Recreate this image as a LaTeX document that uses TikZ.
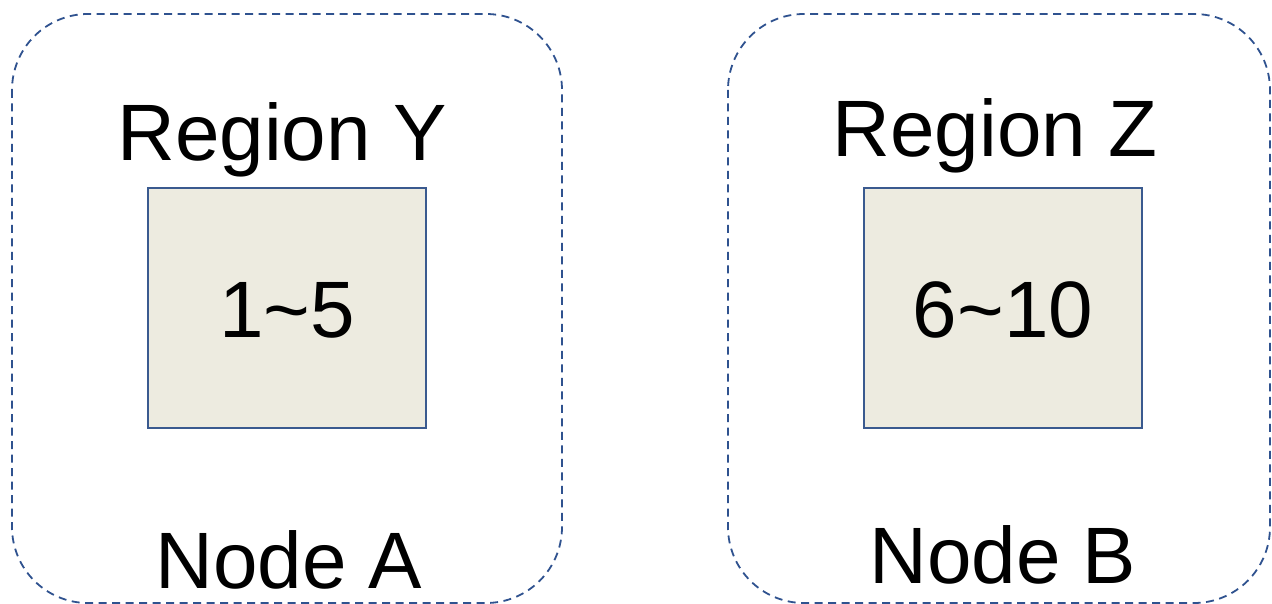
\documentclass[tikz,border=0pt]{standalone}
\usepackage{fontspec}
\setmainfont{Liberation Sans}
\definecolor{dashblue}{HTML}{2F528F}
\definecolor{boxfill}{HTML}{EDEBE0}
\definecolor{boxline}{HTML}{3A5A8F}
\begin{document}
\begin{tikzpicture}[x=1pt,y=-1pt,
  outerbox/.style={draw=dashblue,line width=1.8pt,dash pattern=on 8pt off 5.5pt,rounded corners=76pt},
  innerbox/.style={draw=boxline,fill=boxfill,line width=1.5pt},
  bigtext/.style={font=\fontsize{80}{80}\selectfont,inner sep=0pt,anchor=base}]
\useasboundingbox (0,0) rectangle (1272,604);
\draw[outerbox] (12,14) rectangle (562,603);
\draw[outerbox] (728,14) rectangle (1270,603);
\node[innerbox,minimum width=278pt,minimum height=240pt,inner sep=0pt] (boxY) at (287,308) {};
\node[innerbox,minimum width=278pt,minimum height=240pt,inner sep=0pt] (boxZ) at (1003,308) {};
\node[bigtext] (regY) at (282,161) {Region Y};
\node[bigtext] (regZ) at (995,157) {Region Z};
\node[bigtext] (numY) at (287,337) {1\textasciitilde 5};
\node[bigtext] (numZ) at (1003,337) {6\textasciitilde 10};
\node[bigtext] (nodeA) at (289,588) {Node A};
\node[bigtext] (nodeB) at (1003,583) {Node B};
\end{tikzpicture}
\end{document}
